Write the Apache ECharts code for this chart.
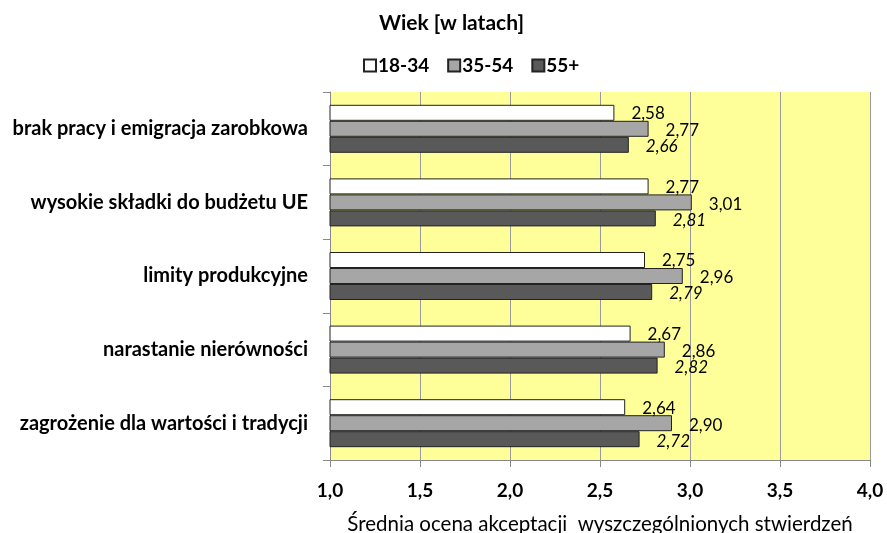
<!DOCTYPE html>
<html>
<head>
<meta charset="utf-8">
<script src="https://cdn.jsdelivr.net/npm/echarts@6/dist/echarts.min.js"></script>
<style>
  html, body { margin: 0; padding: 0; background: #fff; }
  #chart { width: 887px; height: 533px; }
</style>
</head>
<body>
<div id="chart"></div>
<script>
// kategorie od góry do dołu
const categories = [
    'brak pracy i emigracja zarobkowa',
    'wysokie składki do budżetu UE',
    'limity produkcyjne',
    'narastanie nierówności',
    'zagrożenie dla wartości i tradycji'
];
const seriesNames = ['18-34', '35-54', '55+'];
const age18_34 = [2.58, 2.77, 2.75, 2.67, 2.64];
const age35_54 = [2.77, 3.01, 2.96, 2.86, 2.90];
const age55 = [2.66, 2.81, 2.79, 2.82, 2.72];

const font = 'Lato, "Open Sans", sans-serif';
const fmt = (v) => v.toFixed(2).replace('.', ',');

function makeSeries(name, data, color, italic, dy) {
    return {
        name: name,
        type: 'bar',
        data: data,
        barWidth: 16,
        barGap: '0%',
        itemStyle: { color: color, borderColor: '#222', borderWidth: 1 },
        label: {
            show: true,
            position: 'right',
            distance: 17,
            offset: [0, dy],
            fontFamily: font,
            fontSize: 17,
            fontStyle: italic ? 'italic' : 'normal',
            color: '#000',
            formatter: (p) => fmt(p.value)
        }
    };
}

let myChart = echarts.init(document.getElementById('chart'));
myChart.setOption({
    animation: false,
    title: {
        text: 'Wiek [w latach]',
        left: 374,
        top: 8,
        textStyle: { fontFamily: font, fontSize: 21, fontWeight: 'bold', color: '#000' }
    },
    legend: {
        data: seriesNames,
        left: 358,
        top: 51,
        itemWidth: 12,
        itemHeight: 12,
        itemGap: 18,
        icon: 'rect',
        textStyle: { fontFamily: font, fontSize: 19, fontWeight: 'bold', color: '#000', padding: [0, 0, 0, -3] }
    },
    grid: { left: 330, right: 17, top: 92, bottom: 73, containLabel: false, outerBoundsMode: 'none' },
    xAxis: {
        type: 'value',
        min: 1,
        max: 4,
        interval: 0.5,
        name: 'Średnia ocena akceptacji  wyszczególnionych stwierdzeń',
        nameLocation: 'middle',
        nameGap: 54,
        nameTextStyle: { fontFamily: font, fontSize: 20.5, color: '#000' },
        axisLine: { show: true, lineStyle: { color: '#888' } },
        axisTick: { show: true, length: 7, lineStyle: { color: '#888' } },
        axisLabel: {
            fontFamily: font, fontSize: 19, fontWeight: 'bold', color: '#000', margin: 21,
            formatter: (v) => v.toFixed(1).replace('.', ',')
        },
        splitLine: { show: true, lineStyle: { color: '#999', width: 1 } }
    },
    yAxis: {
        type: 'category',
        data: categories,
        inverse: true,
        axisLine: { show: true, lineStyle: { color: '#888' } },
        axisTick: { show: true, length: 7, lineStyle: { color: '#888' } },
        axisLabel: { fontFamily: font, fontSize: 20, fontWeight: 'bold', color: '#000', margin: 22 },
        splitArea: { show: true, areaStyle: { color: ['#ffff99'] } }
    },
    series: [
        makeSeries('18-34', age18_34, '#ffffff', false, 1),
        makeSeries('35-54', age35_54, '#a6a6a6', false, 2),
        makeSeries('55+', age55, '#595959', true, 2)
    ]
});
</script>
</body>
</html>
